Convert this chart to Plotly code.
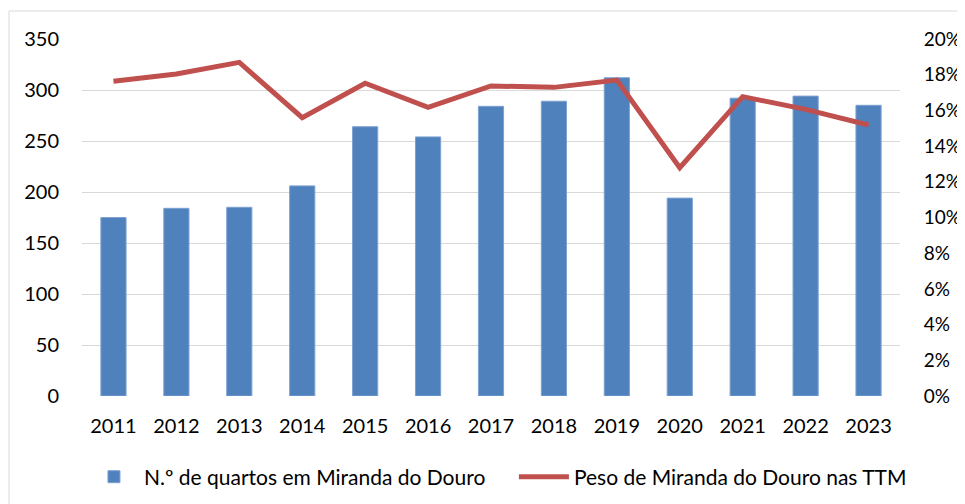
import plotly.graph_objects as go

years = ["2011", "2012", "2013", "2014", "2015", "2016", "2017", "2018", "2019", "2020", "2021", "2022", "2023"]
quartos = [175, 184, 185, 206, 264, 254, 284, 289, 312, 194, 292, 294, 285]
peso = [0.1763, 0.1804, 0.1869, 0.1559, 0.1752, 0.1617, 0.1737, 0.1729, 0.1770, 0.1279, 0.1677, 0.1606, 0.1518]
left_ticks = [0, 50, 100, 150, 200, 250, 300, 350]
right_ticks = [0, 0.02, 0.04, 0.06, 0.08, 0.10, 0.12, 0.14, 0.16, 0.18, 0.20]

FONT = "Lato"
FS = 20
# page body has an 8px margin, so the figure is drawn at (8, 8)
OFF = 8
W, H = 965 - OFF, 504 - OFF
PL, PT, PW, PH = 82 - OFF, 39 - OFF, 818, 357

fig = go.Figure()
fig.add_trace(go.Bar(
    x=years, y=quartos, name="N.º de quartos em Miranda do Douro",
    marker=dict(color="#4f81bd", line=dict(color="#7ea1d0", width=1)),
    width=0.4, legend="legend",
))
fig.add_trace(go.Scatter(
    x=years, y=peso, name="Peso de Miranda do Douro nas TTM", yaxis="y2",
    mode="lines", line=dict(color="#c0504d", width=5), legend="legend2",
))

leg_common = dict(orientation="h", xanchor="left", y=-0.227, yanchor="middle",
                  font=dict(family=FONT, size=21, color="#000000"), itemwidth=50,
                  bgcolor="rgba(0,0,0,0)")

fig.update_layout(
    width=W, height=H,
    margin=dict(l=PL, r=W - PL - PW, t=PT, b=H - PT - PH, autoexpand=False),
    paper_bgcolor="white", plot_bgcolor="white",
    font=dict(family=FONT, size=FS, color="#000000"),
    showlegend=True,
    legend=dict(x=0.0024, **leg_common),
    legend2=dict(x=0.528, **leg_common),
    xaxis=dict(type="category", showgrid=False, showline=False, zeroline=False,
               automargin=False,
               ticks="outside", ticklen=12, tickcolor="rgba(0,0,0,0)",
               tickfont=dict(family=FONT, size=FS)),
    yaxis=dict(range=[0, 350], tickvals=left_ticks, showgrid=True, gridcolor="#d9d9d9",
               gridwidth=1, zeroline=False, showline=False, automargin=False,
               ticks="outside", ticklen=18, tickcolor="rgba(0,0,0,0)",
               tickfont=dict(family=FONT, size=FS)),
    yaxis2=dict(range=[0, 0.2], tickvals=right_ticks, tickformat=".0%", overlaying="y",
                side="right", showgrid=False, zeroline=False, showline=False,
                automargin=False,
                ticks="outside", ticklen=19, tickcolor="rgba(0,0,0,0)",
                tickfont=dict(family=FONT, size=19)),
    shapes=[dict(type="rect", xref="paper", yref="paper",
                 x0=(1 - PL) / PW, x1=(W + 2 - PL) / PW,
                 y0=-(H + 2 - PT - PH) / PH, y1=(PT + PH - 3) / PH,
                 line=dict(color="#d9d9d9", width=1), fillcolor="rgba(0,0,0,0)", layer="below")],
)

fig.write_html("out.html")
